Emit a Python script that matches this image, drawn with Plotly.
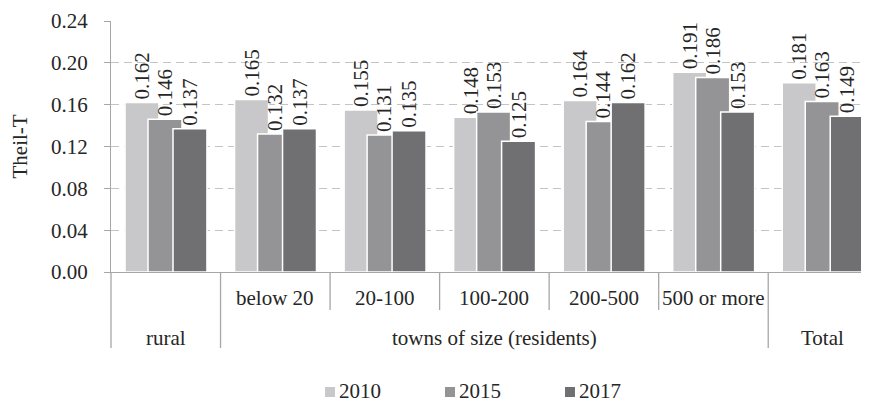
import plotly.graph_objects as go

# ---- data ----
categories = ["rural", "below 20", "20-100", "100-200", "200-500", "500 or more", "Total"]
row1_labels = ["", "below 20", "20-100", "100-200", "200-500", "500 or more", ""]
groups = [("rural", 0, 0), ("towns of size (residents)", 1, 5), ("Total", 6, 6)]
years = ["2010", "2015", "2017"]
v2010 = [0.162, 0.165, 0.155, 0.148, 0.164, 0.191, 0.181]
v2015 = [0.146, 0.132, 0.131, 0.153, 0.144, 0.186, 0.163]
v2017 = [0.137, 0.137, 0.135, 0.125, 0.162, 0.153, 0.149]
series = [v2010, v2015, v2017]
colors = ["#C8C8CA", "#949496", "#707073"]
y_ticks = [0.00, 0.04, 0.08, 0.12, 0.16, 0.20, 0.24]

FONT = "Liberation Serif, Times New Roman, serif"
TXT = "#262626"
AXC = "#A6A6A6"
# page body has an 8px default margin, so the figure is 8px smaller
BODY = 8
W, H = 869 - BODY, 404 - BODY
ml, mr, mt = 111 - BODY, 0, 21 - BODY
mb = H - (272 - BODY)
plot_w = W - ml - mr
plot_h = H - mt - mb

xpos = list(range(len(categories)))
xr = [-0.5, 6.42]
bar_w = 0.31
offsets = [-0.372, -0.162, 0.066]

fig = go.Figure()
for name, vals, col, off in zip(years, series, colors, offsets):
    fig.add_trace(go.Bar(
        x=xpos, y=vals, name=name,
        width=bar_w, offset=off,
        marker=dict(color=col, line=dict(color="white", width=1.5)),
        texttemplate="%{y:.3f}", textposition="outside", textangle=-90,
        textfont=dict(family=FONT, size=21, color=TXT),
        constraintext="none", cliponaxis=False, showlegend=False,
    ))

def py(pix):
    # reference pixel row -> paper y
    return (272 - pix) / plot_h

def pxp(pix):
    # reference pixel column -> paper x
    return (pix - 111) / plot_w

def px(xv):
    return (xv - xr[0]) / (xr[1] - xr[0])

shapes = []
# inner separators (first label row only)
for g_name, a, b in groups:
    for i in range(a, b):
        shapes.append(dict(type="line", xref="paper", yref="paper",
                           x0=px(i + 0.5), x1=px(i + 0.5), y0=0, y1=py(310),
                           line=dict(color=AXC, width=1.3)))
# group separators (both rows)
for g_name, a, b in groups:
    x = a - 0.5
    shapes.append(dict(type="line", xref="paper", yref="paper",
                       x0=px(x), x1=px(x), y0=0, y1=py(348),
                       line=dict(color=AXC, width=1.3)))

annotations = []
for i, lab in enumerate(row1_labels):
    if lab:
        annotations.append(dict(x=xpos[i], y=py(298), xref="x", yref="paper",
                                text=lab, showarrow=False, xanchor="center", yanchor="middle",
                                font=dict(family=FONT, size=21, color=TXT)))
for g_name, a, b in groups:
    annotations.append(dict(x=(a + b) / 2, y=py(338), xref="x", yref="paper",
                            text=g_name, showarrow=False, xanchor="center", yanchor="middle",
                            font=dict(family=FONT, size=21, color=TXT)))
annotations.append(dict(x=pxp(19), y=0.5, xref="paper", yref="paper",
                        text="Theil-T", textangle=-90, showarrow=False,
                        xanchor="center", yanchor="middle",
                        font=dict(family=FONT, size=21, color=TXT)))

# manual legend
leg_x0, leg_step = 325, 120
for k, (name, col) in enumerate(zip(years, colors)):
    x0 = leg_x0 + k * leg_step
    shapes.append(dict(type="rect", xref="paper", yref="paper",
                       x0=pxp(x0), x1=pxp(x0 + 10), y0=py(397), y1=py(387),
                       fillcolor=col, line=dict(width=0)))
    annotations.append(dict(x=pxp(x0 + 13), y=py(403.5), xref="paper", yref="paper",
                            text=name, showarrow=False, xanchor="left", yanchor="bottom",
                            borderpad=0,
                            font=dict(family=FONT, size=21, color=TXT)))

fig.update_layout(
    width=W, height=H,
    margin=dict(l=ml, r=mr, t=mt, b=mb, pad=0, autoexpand=False),
    paper_bgcolor="white", plot_bgcolor="white",
    barmode="overlay",
    font=dict(family=FONT, size=21, color=TXT),
    xaxis=dict(range=xr, showticklabels=False, ticks="", showgrid=False,
               zeroline=False, showline=True, linecolor=AXC, linewidth=1.3,
               fixedrange=True),
    yaxis=dict(range=[0, 0.24], tickvals=y_ticks, tickformat=".2f",
               ticks="outside", ticklen=6, tickcolor=AXC, tickwidth=1.3,
               ticklabelstandoff=12,
               showline=True, linecolor=AXC, linewidth=1.3,
               showgrid=True, gridcolor="#C4C4C4", gridwidth=1, griddash="8px,5px",
               zeroline=False, tickfont=dict(family=FONT, size=21, color=TXT)),
    shapes=shapes, annotations=annotations,
    showlegend=False,
)

fig.write_html("out.html")
